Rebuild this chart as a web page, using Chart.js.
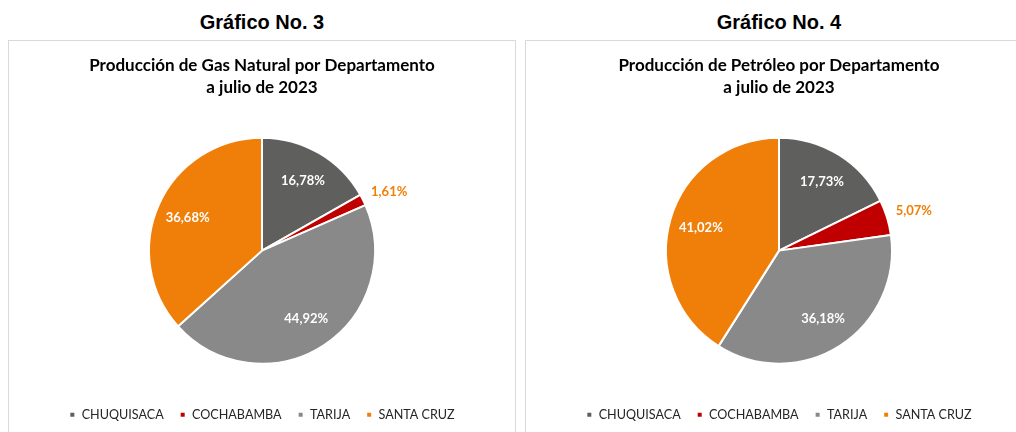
<!DOCTYPE html>
<html lang="es">
<head>
<meta charset="utf-8">
<title>Producción por Departamento a julio de 2023</title>
<script src="https://cdn.jsdelivr.net/npm/chart.js@4.4.1/dist/chart.umd.min.js"></script>
<style>
  html, body { margin: 0; padding: 0; background: #ffffff; overflow: hidden; }
  body { width: 1016px; height: 432px; position: relative; }
  .heading {
    position: absolute; top: 11px; width: 508px; text-align: center;
    font: bold 20px "Liberation Sans", Arial, sans-serif; color: #000;
  }
  .panel {
    position: absolute; top: 40px; width: 508px; height: 420px;
    box-sizing: border-box; border: 1px solid #d9d9d9; background: #fff;
  }
  .panel canvas { position: absolute; left: 0; top: 0; }
</style>
</head>
<body>
<div class="heading" style="left:8px;">Gráfico No. 3</div>
<div class="heading" style="left:525px;">Gráfico No. 4</div>
<div class="panel" style="left:8px;"><canvas id="gas" width="506" height="390"></canvas></div>
<div class="panel" style="left:525px;"><canvas id="petroleo" width="506" height="390"></canvas></div>

<script>
// Departamentos y participación porcentual (%)
const departamentos = ['CHUQUISACA', 'COCHABAMBA', 'TARIJA', 'SANTA CRUZ'];
const gasNatural = [16.78, 1.61, 44.92, 36.68];
const petroleo = [17.73, 5.07, 36.18, 41.02];
const tituloGas = ['Producción de Gas Natural por Departamento', 'a julio de 2023'];
const tituloPetroleo = ['Producción de Petróleo por Departamento', 'a julio de 2023'];

const colores = ['#5f5f5e', '#c00000', '#898989', '#f07f09'];
const fuente = 'Lato, "Open Sans", sans-serif';

const fmt = v => v.toFixed(2).replace('.', ',') + '%';

// Etiquetas de porcentaje: dentro de la porción, o fuera si la porción es pequeña
const etiquetas = {
  id: 'etiquetas',
  afterDatasetsDraw(chart) {
    const ctx = chart.ctx;
    const meta = chart.getDatasetMeta(0);
    const values = chart.data.datasets[0].data;
    ctx.save();
    ctx.font = 'bold 13px ' + fuente;
    ctx.textBaseline = 'middle';
    meta.data.forEach((arc, i) => {
      const p = arc.getProps(['x', 'y', 'startAngle', 'endAngle', 'outerRadius'], true);
      const mid = (p.startAngle + p.endAngle) / 2;
      const v = values[i];
      if (v < 6) {
        const r = p.outerRadius + 9;
        ctx.fillStyle = '#f07f09';
        ctx.textAlign = 'left';
        ctx.fillText(fmt(v), p.x + Math.cos(mid) * r, p.y + Math.sin(mid) * r - 4);
      } else {
        const r = p.outerRadius * 0.72;
        ctx.fillStyle = '#ffffff';
        ctx.textAlign = 'center';
        ctx.fillText(fmt(v), p.x + Math.cos(mid) * r, p.y + Math.sin(mid) * r);
      }
    });
    ctx.restore();
  }
};

function pastel(id, valores, titulo) {
  return new Chart(document.getElementById(id), {
    type: 'pie',
    data: {
      labels: departamentos,
      datasets: [{
        data: valores,
        backgroundColor: colores,
        borderColor: '#ffffff',
        borderWidth: 2,
        radius: 113
      }]
    },
    options: {
      responsive: false,
      animation: false,
      layout: { padding: 0 },
      plugins: {
        title: {
          display: true,
          text: titulo,
          color: '#000000',
          font: { family: fuente, size: 17, weight: 'bold', lineHeight: 1.29 },
          padding: { top: 14, bottom: 10 }
        },
        legend: {
          position: 'bottom',
          labels: {
            color: '#262626',
            font: { family: fuente, size: 12.6 },
            boxWidth: 6,
            boxHeight: 6,
            padding: 16
          }
        },
        tooltip: { enabled: false }
      }
    },
    plugins: [etiquetas]
  });
}

pastel('gas', gasNatural, tituloGas);
pastel('petroleo', petroleo, tituloPetroleo);
</script>
</body>
</html>
